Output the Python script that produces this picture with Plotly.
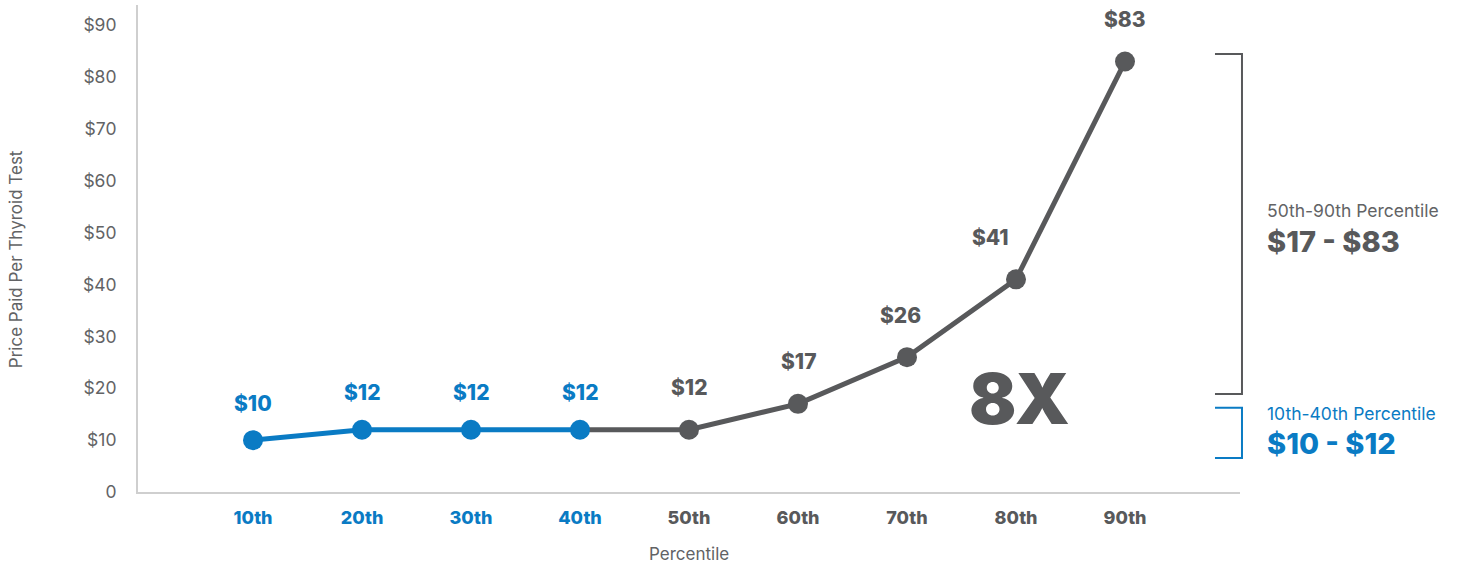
import plotly.graph_objects as go

# Price paid per thyroid test at each percentile
percentiles = ["10th", "20th", "30th", "40th", "50th", "60th", "70th", "80th", "90th"]
prices = [10, 12, 12, 12, 12, 17, 26, 41, 83]
y_tick_vals = [0, 10, 20, 30, 40, 50, 60, 70, 80, 90]
y_tick_text = ["0", "$10", "$20", "$30", "$40", "$50", "$60", "$70", "$80", "$90"]
minor_marks = [22.5, 45, 67.5, 90]

LOW_N = 4  # 10th-40th percentile group
BLUE = "#0a7bc4"
GRAY = "#58595b"
AXIS = "#cfcfcf"
TICK_TXT = "#626365"
BOLD_FONT = "Inter"
REG_FONT = "Inter"

# horizontal nudges that keep a label clear of the rising line
label_xshift = [0, 0, 0, 0, 0, 0, -7, -26, 0]

idx = list(range(len(percentiles)))

fig = go.Figure()

# gray segment: 40th -> 90th
fig.add_trace(go.Scatter(
    x=idx[LOW_N - 1:], y=prices[LOW_N - 1:], mode="lines",
    line=dict(color=GRAY, width=5), hoverinfo="skip", yaxis="y"))
fig.add_trace(go.Scatter(
    x=idx[LOW_N:], y=prices[LOW_N:], mode="markers",
    marker=dict(color=GRAY, size=20), hoverinfo="skip", yaxis="y"))
# blue segment: 10th -> 40th
fig.add_trace(go.Scatter(
    x=idx[:LOW_N], y=prices[:LOW_N], mode="lines+markers",
    line=dict(color=BLUE, width=5),
    marker=dict(color=BLUE, size=20), hoverinfo="skip", yaxis="y"))

# value labels above each point
for i, v in zip(idx, prices):
    low = i < LOW_N
    fig.add_annotation(
        x=i, y=v, xref="x", yref="y", text=f"${v}", showarrow=False,
        yshift=37 if low else 42, xshift=label_xshift[i],
        font=dict(family=BOLD_FONT, size=21, color=BLUE if low else GRAY, weight=800))

# category tick labels coloured by group
tick_text = [
    f"<span style='color:{BLUE if i < LOW_N else GRAY}'>{p}</span>"
    for i, p in zip(idx, percentiles)
]

lo_min, lo_max = prices[0], max(prices[:LOW_N])
hi_min, hi_max = prices[LOW_N + 1], prices[-1]
ratio = round(hi_max / lo_min)

annotations = [
    dict(text="Price Paid Per Thyroid Test", xref="paper", yref="paper",
         x=-0.1107, y=0.478, textangle=-90, showarrow=False,
         xanchor="center", yanchor="middle",
         font=dict(family=REG_FONT, size=17, color=TICK_TXT)),
    dict(text="Percentile", xref="paper", yref="paper", x=0.5, y=-0.127,
         showarrow=False, xanchor="center", yanchor="middle",
         font=dict(family=REG_FONT, size=17, color=TICK_TXT)),
    dict(text="50th-90th Percentile", xref="paper", yref="paper",
         x=1.0227, y=0.579, showarrow=False, xanchor="left", yanchor="middle",
         font=dict(family=REG_FONT, size=17.5, color=TICK_TXT)),
    dict(text=f"${hi_min} - ${hi_max}", xref="paper", yref="paper",
         x=1.0227, y=0.5154, showarrow=False, xanchor="left", yanchor="middle",
         font=dict(family=BOLD_FONT, size=29, color=GRAY, weight=800)),
    dict(text="10th-40th Percentile", xref="paper", yref="paper",
         x=1.0227, y=0.1622, showarrow=False, xanchor="left", yanchor="middle",
         font=dict(family=REG_FONT, size=17.5, color=BLUE)),
    dict(text=f"${lo_min} - ${lo_max}", xref="paper", yref="paper",
         x=1.0227, y=0.1006, showarrow=False, xanchor="left", yanchor="middle",
         font=dict(family=BOLD_FONT, size=29, color=BLUE, weight=800)),
    dict(text=f"{ratio}X", xref="paper", yref="paper",
         x=0.7995, y=0.193, showarrow=False, xanchor="center", yanchor="middle",
         font=dict(family=BOLD_FONT, size=70, color=GRAY, weight=900)),
]
for a in annotations:
    fig.add_annotation(**a)

# range brackets on the right
def bracket(x0, x1, y0, y1, color):
    path = f"M {x0},{y0} L {x1},{y0} L {x1},{y1} L {x0},{y1}"
    fig.add_shape(type="path", path=path, xref="paper", yref="paper",
                  line=dict(color=color, width=2))

bracket(0.9773, 1.0018, 0.8993, 0.2012, GRAY)
bracket(0.9773, 1.0018, 0.1730, 0.0698, BLUE)

fig.update_layout(
    width=1457, height=565,
    margin=dict(l=138, r=217, t=5, b=73),
    paper_bgcolor="white", plot_bgcolor="white",
    showlegend=False,
    xaxis=dict(
        range=[-1.055, 9.055], tickvals=idx, ticktext=tick_text,
        showgrid=False, zeroline=False, showline=True, linecolor=AXIS,
        linewidth=2, ticks="", ticklabelstandoff=8,
        tickfont=dict(family=BOLD_FONT, size=18, weight=800)),
    yaxis=dict(
        range=[0, 93.9], tickvals=y_tick_vals, ticktext=y_tick_text,
        showgrid=False, zeroline=False, showline=True, linecolor=AXIS,
        linewidth=2, ticks="", ticklabelstandoff=16,
        tickfont=dict(family=REG_FONT, size=17.5, color=TICK_TXT)),
    yaxis2=dict(
        range=[0, 93.9], overlaying="y", side="left", tickvals=minor_marks,
        ticks="inside", ticklen=13, tickcolor=AXIS, tickwidth=1.5,
        showticklabels=False, showgrid=False, zeroline=False, showline=False),
)

fig.write_html("out.html")
